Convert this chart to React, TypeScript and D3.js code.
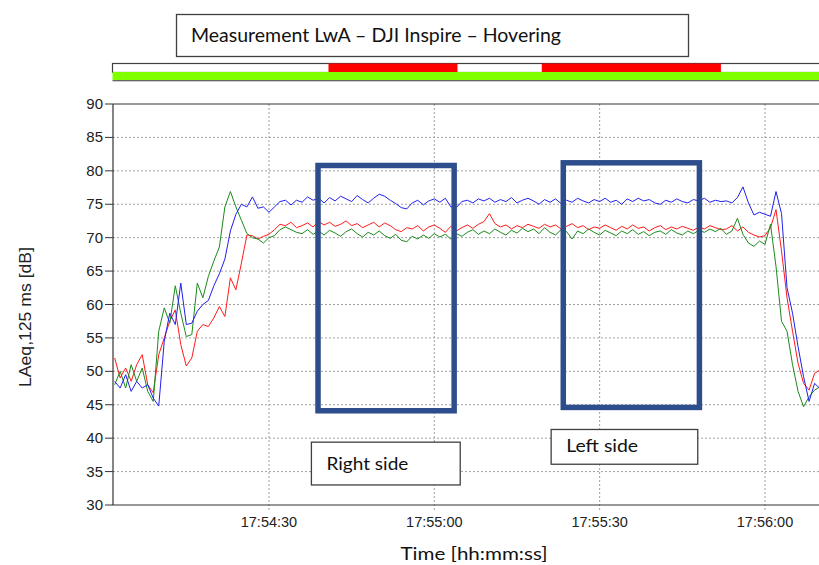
import React from "react";
import * as d3 from "d3";

// time in seconds after 17:54:00, one sample per second starting at SERIES_START
const SERIES_START = 2;
const SAMPLE_STEP = 1;

const blueLevels = [
  48.5, 47.5, 49.5, 47, 48.5, 47.5, 48, 46, 44.8,
  54.5, 58.7, 57, 63.2, 57, 57.2, 59, 60, 60.6, 62.8,
  64.6, 66.8, 71, 73.5, 75, 74.6, 76.1, 74.4, 74.6, 73.8,
  74.6, 75.4, 75.6, 74.9, 75.6,
  75.3, 76.1, 75.6, 75.9, 75.2, 76.0, 75.5, 76.2, 75.8, 75.4,
  76.3, 75.7, 75.2, 75.9, 76.5, 76.2, 75.6, 75.1, 74.5, 74.3,
  75.2, 75.6, 74.9, 75.5, 75.8, 75.3, 75.9, 74.6, 74.5, 75.4,
  75.6, 75.2, 75.8, 75.5, 75.9, 75.3, 75.7, 75.4, 76.0, 75.2,
  75.6, 75.9, 75.5, 75.0, 75.7, 75.3, 75.8, 75.1, 75.6, 75.3,
  75.9, 75.5, 75.2, 75.7, 75.4, 75.9, 75.3, 75.6, 75.0, 75.8,
  75.4, 75.9, 75.5, 75.7, 75.2, 75.0, 75.6, 75.3, 75.8, 75.4,
  75.2, 75.7, 75.5, 75.9, 75.3, 75.6, 75.4,
  75.5, 75.2, 76, 77.6, 75.2, 73.4, 73.8, 73.5, 73.2, 76.9,
  73.6, 62.5, 58.7, 53.7, 49.2, 45.5, 48.2, 47.4,
];

const redLevels = [
  52, 49, 50.5, 48.5, 51, 52.5, 48, 46.8, 52.5,
  55, 57.5, 59.2, 54, 50.8, 52, 56, 57, 56.7, 58,
  59.7, 58.2, 64, 62.2, 66.2, 70.4, 70.3, 69.8, 70.2, 70.5,
  71.2, 72, 71.8, 72.3, 71.5,
  71.8, 72.2, 71.6, 72.4, 71.9, 72.3, 71.7, 72.0, 72.5, 71.8,
  72.1, 71.5, 71.9, 72.3, 71.6, 72.2, 71.8, 71.2, 70.9, 71.5,
  71.3, 71.8, 71.0, 71.6, 71.9, 71.4, 70.8, 71.7, 71.0, 71.5,
  71.9, 71.4, 72.0, 72.4, 73.6, 72.1, 71.6, 71.9, 71.3, 71.8,
  71.5, 72.0, 71.7, 71.4, 72.0, 71.6, 71.9, 71.3, 71.7, 72.1,
  71.5, 71.8, 71.2, 71.6, 71.4, 71.9, 71.5, 71.1, 71.7, 71.3,
  71.9, 71.4, 71.6, 71.0, 71.5, 71.8, 71.2, 71.6, 71.3, 71.7,
  71.4, 71.1, 71.6, 71.3, 71.8, 71.5, 71.2,
  71.3, 71.8, 71, 71.6, 70.8, 70.4, 70.1, 70.3, 71.5, 74.2,
  68, 61, 56, 51.2, 48.2, 47.2, 49.7, 50.2,
];

const greenLevels = [
  48, 50, 47.5, 51, 48.5, 50.5, 47, 45.5, 56,
  59.5, 57.2, 62.8, 58.7, 55.2, 55.5, 63.2, 61, 64.2, 66.5,
  68.6, 74.6, 76.9, 74.6, 72.6, 70.6, 70, 69.8, 69.2, 70,
  70.3, 71.2, 71.6, 71.2, 70.8,
  70.6, 71.2, 70.5, 71.0, 70.4, 71.1, 70.7, 70.2, 70.9, 71.3,
  70.6, 70.1, 70.8, 70.4, 71.0, 70.3, 69.9, 70.5, 69.6, 69.4,
  70.2, 69.8, 70.4, 69.9, 70.6, 70.1, 70.5, 69.8, 70.6, 70.2,
  70.8, 71.2, 70.5, 71.0, 70.6, 71.3, 70.8, 70.4, 71.1, 70.7,
  71.4, 70.9, 71.3, 70.6, 71.5, 70.8, 70.4, 71.2, 70.9, 69.8,
  71.0, 70.6, 71.3, 70.8, 70.4, 71.1, 70.7, 70.3, 71.0, 70.6,
  71.2, 70.5, 70.9, 70.3, 70.8, 71.0, 70.5, 71.2, 70.7, 70.4,
  71.0, 70.6, 71.1, 70.8, 71.3, 70.9, 71.4,
  70.5, 71, 72.9, 70.5, 69.2, 68.7, 69.5, 69, 72, 65.7,
  57.5, 56, 51, 47, 44.7, 46.2, 47.2, 47.7,
];

const yTicks = [30, 35, 40, 45, 50, 55, 60, 65, 70, 75, 80, 85, 90];
const xTickSeconds = [30, 60, 90, 120];
const xTickLabels = ["17:54:30", "17:55:00", "17:55:30", "17:56:00"];

// red segments of the status bar (seconds after 17:54:00)
const statusStart = [40.8, 79.5];
const statusEnd = [64.2, 112.0];

// highlight boxes: [t0, t1] and [dB low, dB high]
const boxT0 = [38.9, 83.4];
const boxT1 = [63.6, 108.1];
const boxLow = [44.1, 44.6];
const boxHigh = [80.8, 81.2];

const noteLabels = ["Right side", "Left side"];
const noteT0 = [37.7, 81.2];
const noteT1 = [64.7, 107.8];
const noteLow = [33.0, 36.1];
const noteHigh = [39.4, 41.3];
const noteWidth = [82, 72];

const seriesColors = { red: "#ff1a1a", green: "#1a8a1a", blue: "#2020ee" };

export default function App() {
  const x = d3.scaleLinear().domain([1.7, 129.8]).range([113, 819]);
  const y = d3.scaleLinear().domain([30, 90]).range([505, 104]);
  const [x0, x1] = x.range();
  const [yb, yt] = y.range();

  const toPts = (arr: number[]) =>
    arr.map((v, i) => [SERIES_START + i * SAMPLE_STEP, v] as [number, number]);
  const line = d3
    .line<[number, number]>()
    .x((d) => x(d[0]))
    .y((d) => y(d[1]));

  const series = [
    { key: "red", data: redLevels },
    { key: "green", data: greenLevels },
    { key: "blue", data: blueLevels },
  ];

  const calibri = "Lato, 'Open Sans', sans-serif";
  const arial = "'Liberation Sans', Arial, sans-serif";

  return (
    <svg
      width={819}
      height={565}
      style={{ position: "absolute", left: 0, top: 0, background: "#fff" }}
    >
      <defs>
        <clipPath id="plotClip">
          <rect x={x0} y={yt} width={x1 - x0} height={yb - yt} />
        </clipPath>
      </defs>
      <rect x={0} y={0} width={819} height={565} fill="#fff" />

      {/* title box */}
      <rect x={176.5} y={14.5} width={512} height={42} fill="#fff" stroke="#404040" strokeWidth={1.3} />
      <text x={191} y={42} fontFamily={calibri} fontSize={19} fill="#111" textLength={370} lengthAdjust="spacingAndGlyphs">
        Measurement LwA – DJI Inspire – Hovering
      </text>

      {/* status bar */}
      <rect x={x0 - 0.5} y={63.5} width={x1 - x0 + 10} height={9} fill="#fff" stroke="#404040" strokeWidth={1.2} />
      {statusStart.map((s, i) => (
        <rect key={"st" + i} x={x(s)} y={63.5} width={x(statusEnd[i]) - x(s)} height={8.5} fill="#ff0000" />
      ))}
      <rect x={x0 - 0.5} y={72} width={x1 - x0 + 10} height={8} fill="#80ff00" />
      <line x1={x0 - 0.5} x2={819} y1={80.5} y2={80.5} stroke="#666" strokeWidth={1} />
      <line x1={x0 - 0.5} x2={819} y1={81.5} y2={81.5} stroke="#ccc" strokeWidth={1} />

      {/* grid */}
      {yTicks.filter((t) => t > 30 && t < 90).map((t) => (
        <line key={"gy" + t} x1={x0} x2={x1} y1={y(t)} y2={y(t)} stroke="#a0a0a0" strokeWidth={1} strokeDasharray="2 2" />
      ))}
      {xTickSeconds.map((s) => (
        <line key={"gx" + s} x1={x(s)} x2={x(s)} y1={yt} y2={yb + 7} stroke="#a0a0a0" strokeWidth={1} strokeDasharray="2 2" />
      ))}

      {/* series */}
      <g clipPath="url(#plotClip)">
        {series.map((s) => (
          <path
            key={s.key}
            d={line(toPts(s.data)) || ""}
            fill="none"
            stroke={(seriesColors as any)[s.key]}
            strokeWidth={1}
            strokeLinejoin="round"
          />
        ))}
      </g>

      {/* axes frame */}
      <line x1={x0} x2={x0} y1={yt} y2={yb} stroke="#333" strokeWidth={1.2} />
      <line x1={x0} x2={x1} y1={yt} y2={yt} stroke="#333" strokeWidth={1.2} />
      <line x1={x0} x2={x1} y1={yb} y2={yb} stroke="#333" strokeWidth={1.2} />

      {/* y ticks */}
      {yTicks.map((t) => (
        <g key={"yt" + t}>
          <line x1={x0 - 8} x2={x0} y1={y(t)} y2={y(t)} stroke="#333" strokeWidth={1} />
          <text x={x0 - 10} y={y(t) + 5} textAnchor="end" fontFamily={arial} fontSize={15} fill="#222">
            {t}
          </text>
        </g>
      ))}

      {/* x tick labels */}
      {xTickSeconds.map((s, i) => (
        <text key={"xt" + s} x={x(s)} y={527} textAnchor="middle" fontFamily={arial} fontSize={14.5} fill="#222">
          {xTickLabels[i]}
        </text>
      ))}

      {/* axis titles */}
      <text
        transform={`translate(31, ${317}) rotate(-90)`}
        textAnchor="middle"
        fontFamily={arial}
        fontSize={16}
        fill="#222"
        textLength={140}
        lengthAdjust="spacingAndGlyphs"
      >
        LAeq,125 ms [dB]
      </text>
      <text x={474} y={560} textAnchor="middle" fontFamily={calibri} fontSize={18} fill="#111" textLength={147} lengthAdjust="spacingAndGlyphs">
        Time [hh:mm:ss]
      </text>

      {/* highlight boxes */}
      {boxT0.map((t, i) => (
        <rect
          key={"bx" + i}
          x={x(t)}
          y={y(boxHigh[i])}
          width={x(boxT1[i]) - x(t)}
          height={y(boxLow[i]) - y(boxHigh[i])}
          fill="none"
          stroke="#2e4d8c"
          strokeWidth={5.5}
        />
      ))}

      {/* note boxes */}
      {noteLabels.map((lab, i) => {
        const bx = x(noteT0[i]);
        const by = y(noteHigh[i]);
        const bw = x(noteT1[i]) - bx;
        const bh = y(noteLow[i]) - by;
        return (
          <g key={"nt" + i}>
            <rect x={bx} y={by} width={bw} height={bh} fill="#fff" stroke="#404040" strokeWidth={1.3} />
            <text
              x={bx + 15}
              y={by + bh * 0.66}
              fontFamily={calibri}
              fontSize={18}
              fill="#111"
              textLength={noteWidth[i]}
              lengthAdjust="spacingAndGlyphs"
            >
              {lab}
            </text>
          </g>
        );
      })}
    </svg>
  );
}
